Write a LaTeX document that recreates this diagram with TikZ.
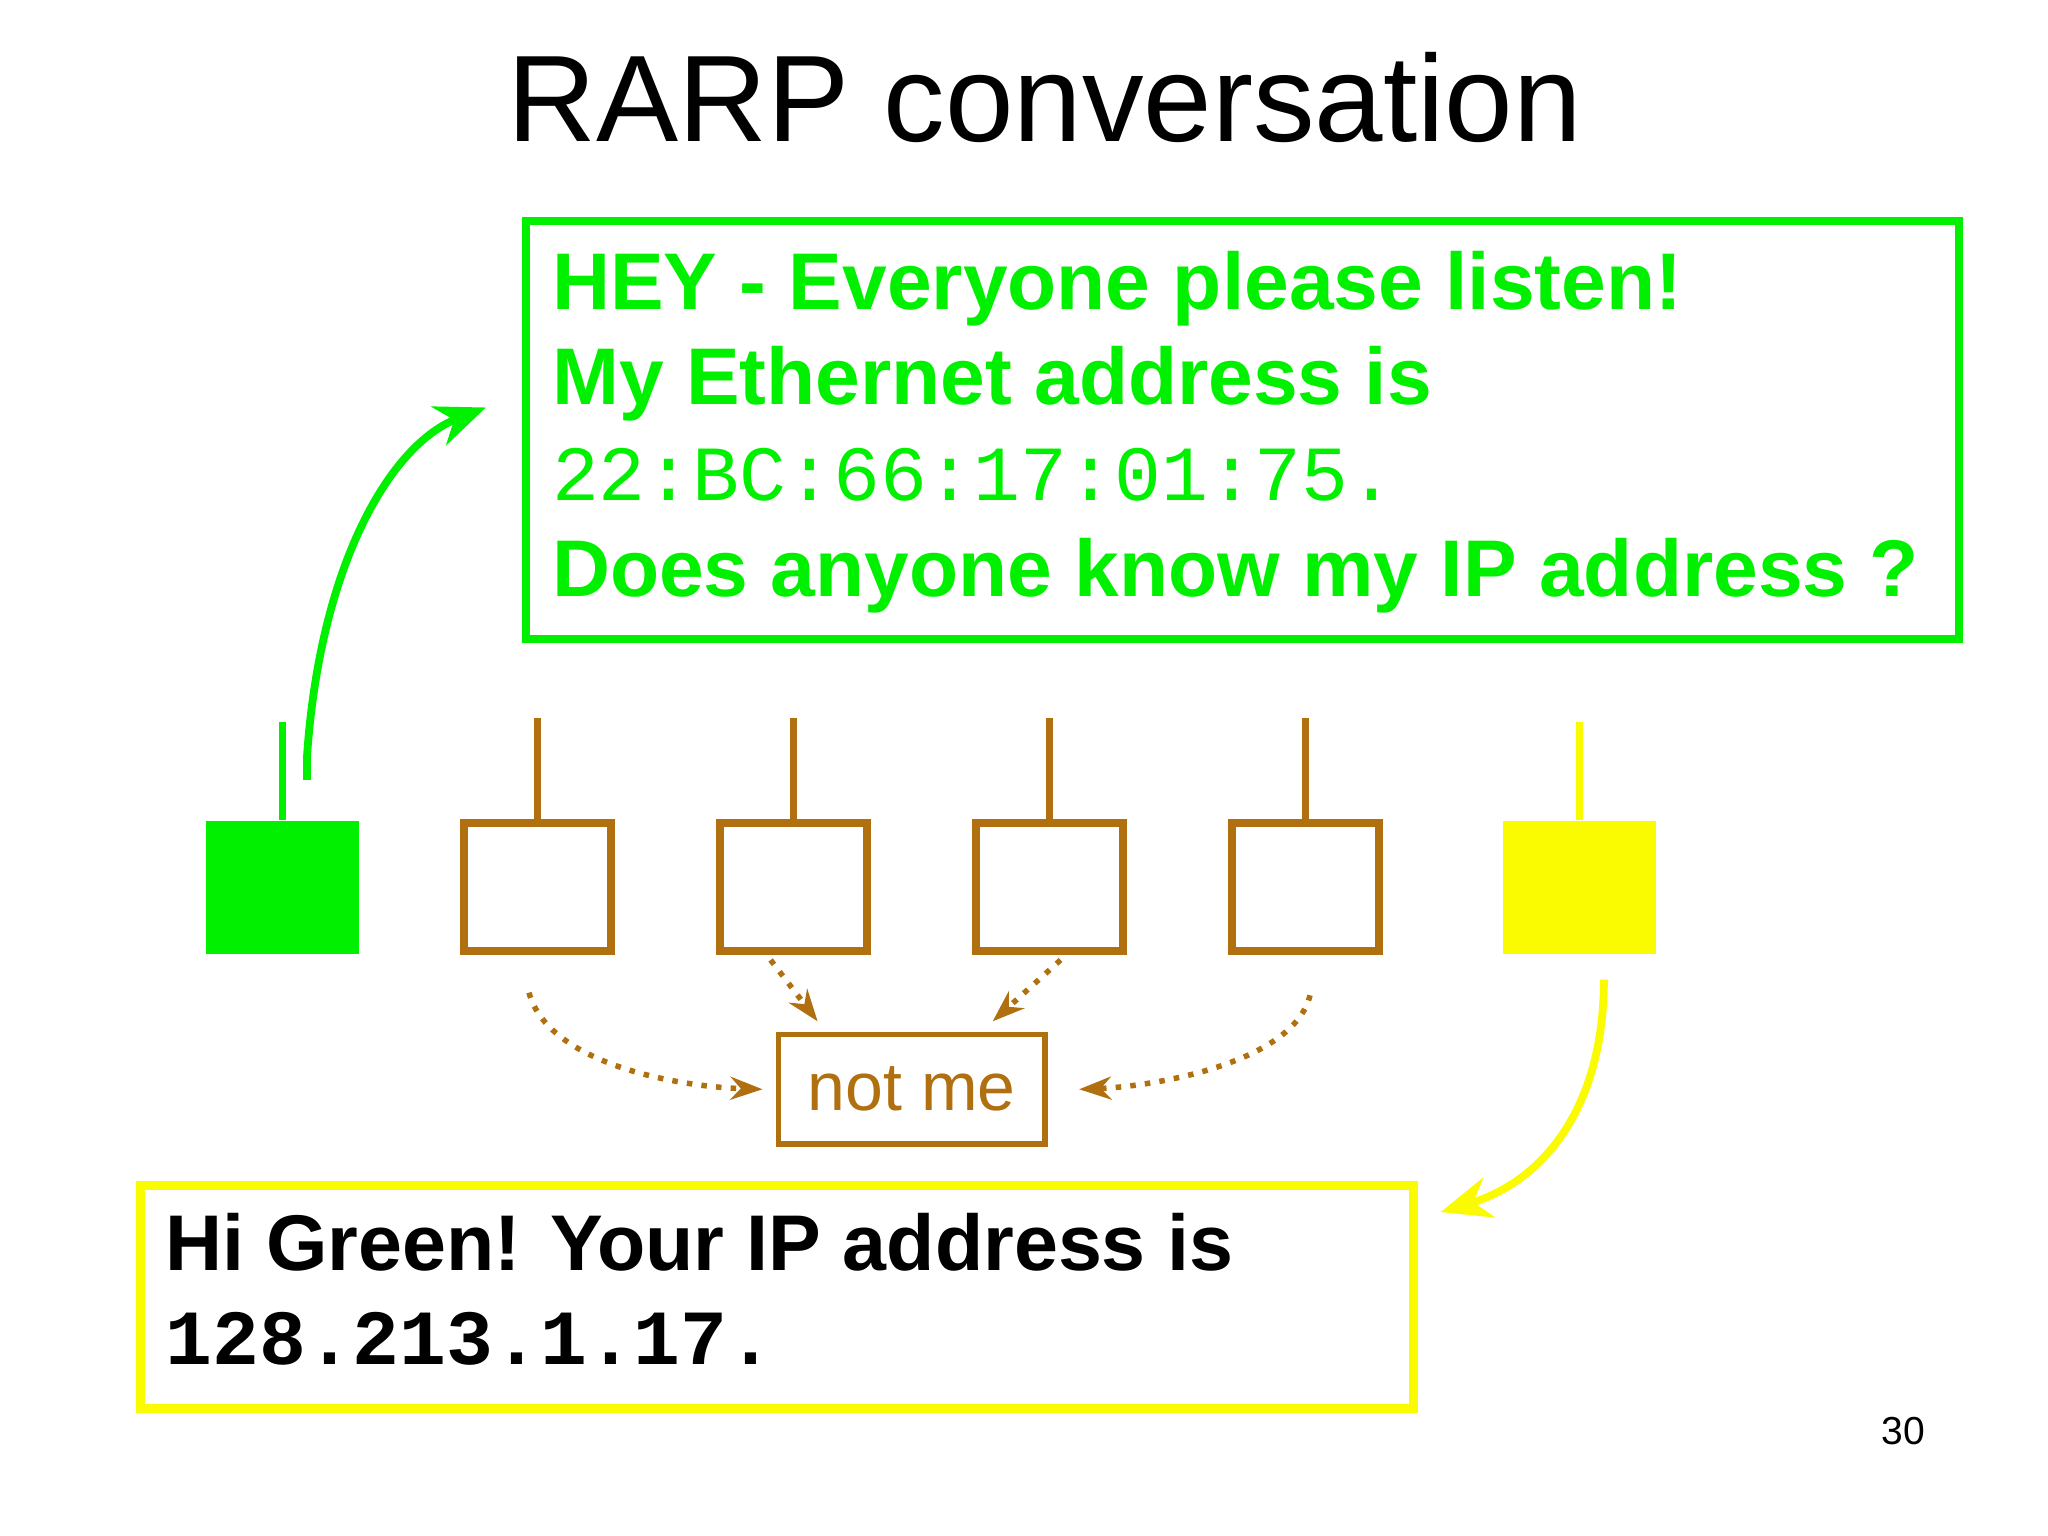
\documentclass[tikz,border=0pt]{standalone}
\usepackage{fontspec}
\setmainfont{Liberation Sans}
\newfontfamily\monofont{Liberation Mono}
\usetikzlibrary{arrows.meta}
\definecolor{gr}{RGB}{0,240,0}
\definecolor{br}{RGB}{176,112,16}
\definecolor{ye}{RGB}{250,250,0}
\begin{document}
\begin{tikzpicture}[x=0.01cm,y=-0.01cm,
  gline/.style={gr,line width=1.7pt},
  bline/.style={br,line width=1.5pt},
  yline/.style={ye,line width=1.7pt},
  dots/.style={br,line width=1.2pt,dotted,-{Stealth[length=7pt,width=5pt]}},
  txt/.style={anchor=base west,inner sep=0}]
\useasboundingbox (0,0) rectangle (1568,1176);
\node (title) at (800,75) {\fontsize{26.8}{32}\selectfont RARP conversation};
% green message box
\node[draw=gr,line width=1.7pt,minimum width=10.96cm,minimum height=3.2cm,anchor=north west,inner sep=0] (gbox) at (400,166) {};
\node[txt,gr] (g1) at (422,237) {\fontsize{17.5}{20}\selectfont\bfseries HEY - Everyone please listen!};
\node[txt,gr] (g2) at (422,310) {\fontsize{17.5}{20}\selectfont\bfseries My Ethernet address is};
\node[txt,gr] (g3) at (422,383) {\fontsize{17}{20}\selectfont\monofont 22:BC:66:17:01:75.};
\node[txt,gr] (g4) at (422,457) {\fontsize{17.5}{20}\selectfont\bfseries Does anyone know my IP address ?};
% stations
\node[fill=gr,minimum width=1.17cm,minimum height=1.02cm,anchor=north west,inner sep=0] (s0) at (157,628) {};
\draw[gline] (s0.north) -- ++(0,-75);
\foreach \i/\x in {1/352,2/548,3/744,4/940}{
  \node[draw=br,line width=1.7pt,minimum width=1.13cm,minimum height=0.98cm,anchor=north west,inner sep=0] (s\i) at (\x,627) {};
  \draw[bline] (s\i.north) -- ++(0,-77);
}
\node[fill=ye,minimum width=1.17cm,minimum height=1.02cm,anchor=north west,inner sep=0] (s5) at (1150,628) {};
\draw[yline] (s5.north) -- ++(0,-75);
% green arrow
\coordinate (ga0) at (235,597);
\coordinate (ga1) at (372,312);
\draw[gline,-{Stealth[length=11pt,width=9pt]}] (ga0) -- (235,580) .. controls (245,430) and (300,340) .. (ga1);
% not me
\node[draw=br,line width=1.2pt,minimum width=2.04cm,minimum height=0.84cm,inner sep=0,text=br] (nm) at (698,834) {\fontsize{14.8}{16}\selectfont not me};
\coordinate (d1) at (405,760);
\coordinate (d4) at (1003,762);
\draw[dots] (d1) .. controls (420,815) and (520,832) .. ([xshift=-0.1cm]nm.west);
\draw[dots] (590,735) -- (626,782);
\draw[dots] (812,735) -- (760,782);
\draw[dots] (d4) .. controls (990,815) and (880,832) .. ([xshift=0.24cm]nm.east);
% yellow arrow & box
\coordinate (ya0) at (1228,750);
\coordinate (ya1) at (1103,928);
\draw[yline,-{Stealth[length=11pt,width=9pt]}] (ya0) .. controls (1228,850) and (1180,905) .. (ya1);
\node[draw=ye,line width=2pt,minimum width=9.74cm,minimum height=1.71cm,anchor=north west,inner sep=0] (ybox) at (104,904) {};
\node[txt] (y1) at (126,973) {\fontsize{17.2}{20}\selectfont\bfseries Hi Green! Your IP address is};
\node[txt] (y2) at (126,1045) {\fontsize{17}{20}\selectfont\monofont\bfseries 128.213.1.17.};
\node (pg) at (1457,1096) {\fontsize{8.5}{10}\selectfont 30};
\end{tikzpicture}
\end{document}
